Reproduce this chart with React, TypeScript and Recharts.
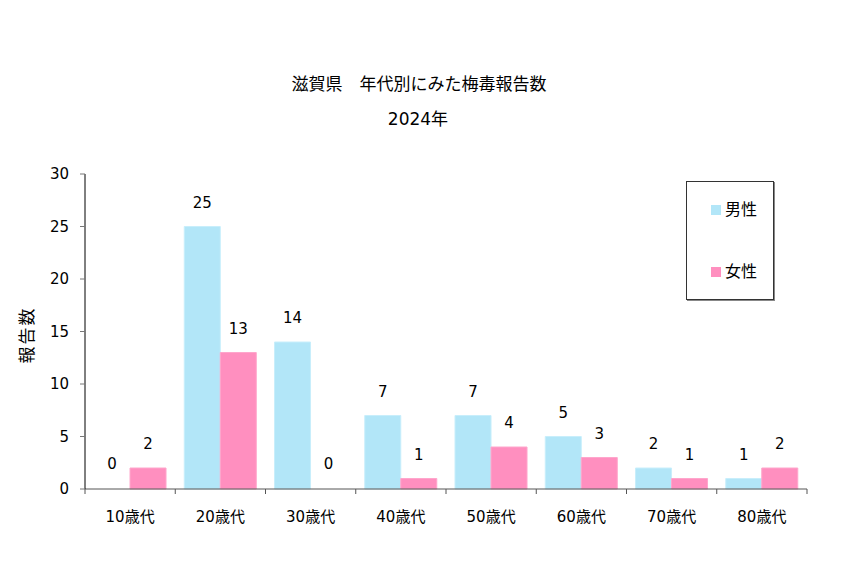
import { BarChart, Bar, XAxis, YAxis, Legend, LabelList, Rectangle } from 'recharts'

const categories = ['10歳代', '20歳代', '30歳代', '40歳代', '50歳代', '60歳代', '70歳代', '80歳代']
const male = [0, 25, 14, 7, 7, 5, 2, 1]
const female = [2, 13, 0, 1, 4, 3, 1, 2]
const yTicks = [0, 5, 10, 15, 20, 25, 30]

const MALE_COLOR = '#b2e6f8'
const FEMALE_COLOR = '#ff8fbf'
const FONT = '"DejaVu Sans", "Noto Sans CJK JP", sans-serif'

const data = categories.map((c, i) => ({ name: c, male: male[i], female: female[i] }))

function CategoryTick(props: any) {
  const { x, y, payload, index } = props
  const half = payload.offset ?? 0
  return (
    <g>
      <line x1={x - half} y1={y} x2={x - half} y2={y + 5} stroke="#555" />
      {index === categories.length - 1 && (
        <line x1={x + half} y1={y} x2={x + half} y2={y + 5} stroke="#555" />
      )}
      <text x={x} y={y + 33} textAnchor="middle" fontSize={15} fontFamily={FONT} fill="#000">
        {payload.value}
      </text>
    </g>
  )
}

// zero values still get a 1px bar so the label shows; draw nothing for them
const barShape = (key: string) => (p: any) =>
  p.payload && p.payload[key] === 0 ? <g /> : <Rectangle {...p} />

function LegendBox() {
  const items = [
    { label: '男性', color: MALE_COLOR },
    { label: '女性', color: FEMALE_COLOR },
  ]
  return (
    <div
      style={{
        width: 86,
        height: 117,
        border: '1px solid #333',
        boxShadow: '1px 1px 0 #888',
        position: 'relative',
        fontFamily: FONT,
        fontSize: 16,
        lineHeight: '20px',
      }}
    >
      {items.map((it, i) => (
        <div key={it.label} style={{ position: 'absolute', left: 24, top: 18 + i * 62, display: 'flex', alignItems: 'center' }}>
          <span style={{ width: 10, height: 10, background: it.color, display: 'inline-block', marginRight: 4 }} />
          <span>{it.label}</span>
        </div>
      ))}
    </div>
  )
}

const labelFmt = (v: any) => String(v)

export default function App() {
  return (
    <div style={{ position: 'absolute', left: 0, top: 0, width: 855, height: 567, background: '#fff', fontFamily: FONT }}>
      <div style={{ position: 'absolute', left: 0, width: 838, top: 70, textAlign: 'center', fontSize: 17 }}>
        滋賀県　年代別にみた梅毒報告数
      </div>
      <div style={{ position: 'absolute', left: 0, width: 836, top: 105, textAlign: 'center', fontSize: 17 }}>
        2024年
      </div>
      <div
        style={{
          position: 'absolute',
          left: 25,
          top: 335,
          transform: 'translate(-50%, -50%) rotate(-90deg)',
          fontSize: 17,
          letterSpacing: 2,
          whiteSpace: 'nowrap',
        }}
      >
        報告数
      </div>
      <BarChart
        width={855}
        height={567}
        data={data}
        margin={{ top: 174, right: 48, bottom: 48, left: 45 }}
        barCategoryGap="10%"
        barGap={0}
      >
        <XAxis
          dataKey="name"
          height={30}
          tickLine={false}
          tickSize={0}
          tickMargin={0}
          axisLine={{ stroke: '#555' }}
          tick={<CategoryTick />}
          interval={0}
        />
        <YAxis
          width={40}
          domain={[0, 30]}
          ticks={yTicks}
          tickSize={5}
          tickMargin={11}
          tickLine={{ stroke: '#777' }}
          axisLine={{ stroke: '#000' }}
          tick={{ fill: '#000', fontSize: 15, fontFamily: FONT }}
          interval={0}
        />
        <Legend
          layout="horizontal"
          verticalAlign="middle"
          align="center"
          wrapperStyle={{ left: 686, top: 181, width: 88, height: 119 }}
          content={<LegendBox />}
        />
        <Bar
          dataKey="male"
          name="男性"
          fill={MALE_COLOR}
          stroke="#c8eefb"
          strokeWidth={1}
          minPointSize={1}
          shape={barShape('male')}
          isAnimationActive={false}
        >
          <LabelList dataKey="male" position="top" offset={19} fill="#000" fontSize={15} fontFamily={FONT} formatter={labelFmt} />
        </Bar>
        <Bar
          dataKey="female"
          name="女性"
          fill={FEMALE_COLOR}
          stroke="#ffa6cc"
          strokeWidth={1}
          minPointSize={1}
          shape={barShape('female')}
          isAnimationActive={false}
        >
          <LabelList dataKey="female" position="top" offset={19} fill="#000" fontSize={15} fontFamily={FONT} formatter={labelFmt} />
        </Bar>
      </BarChart>
    </div>
  )
}
